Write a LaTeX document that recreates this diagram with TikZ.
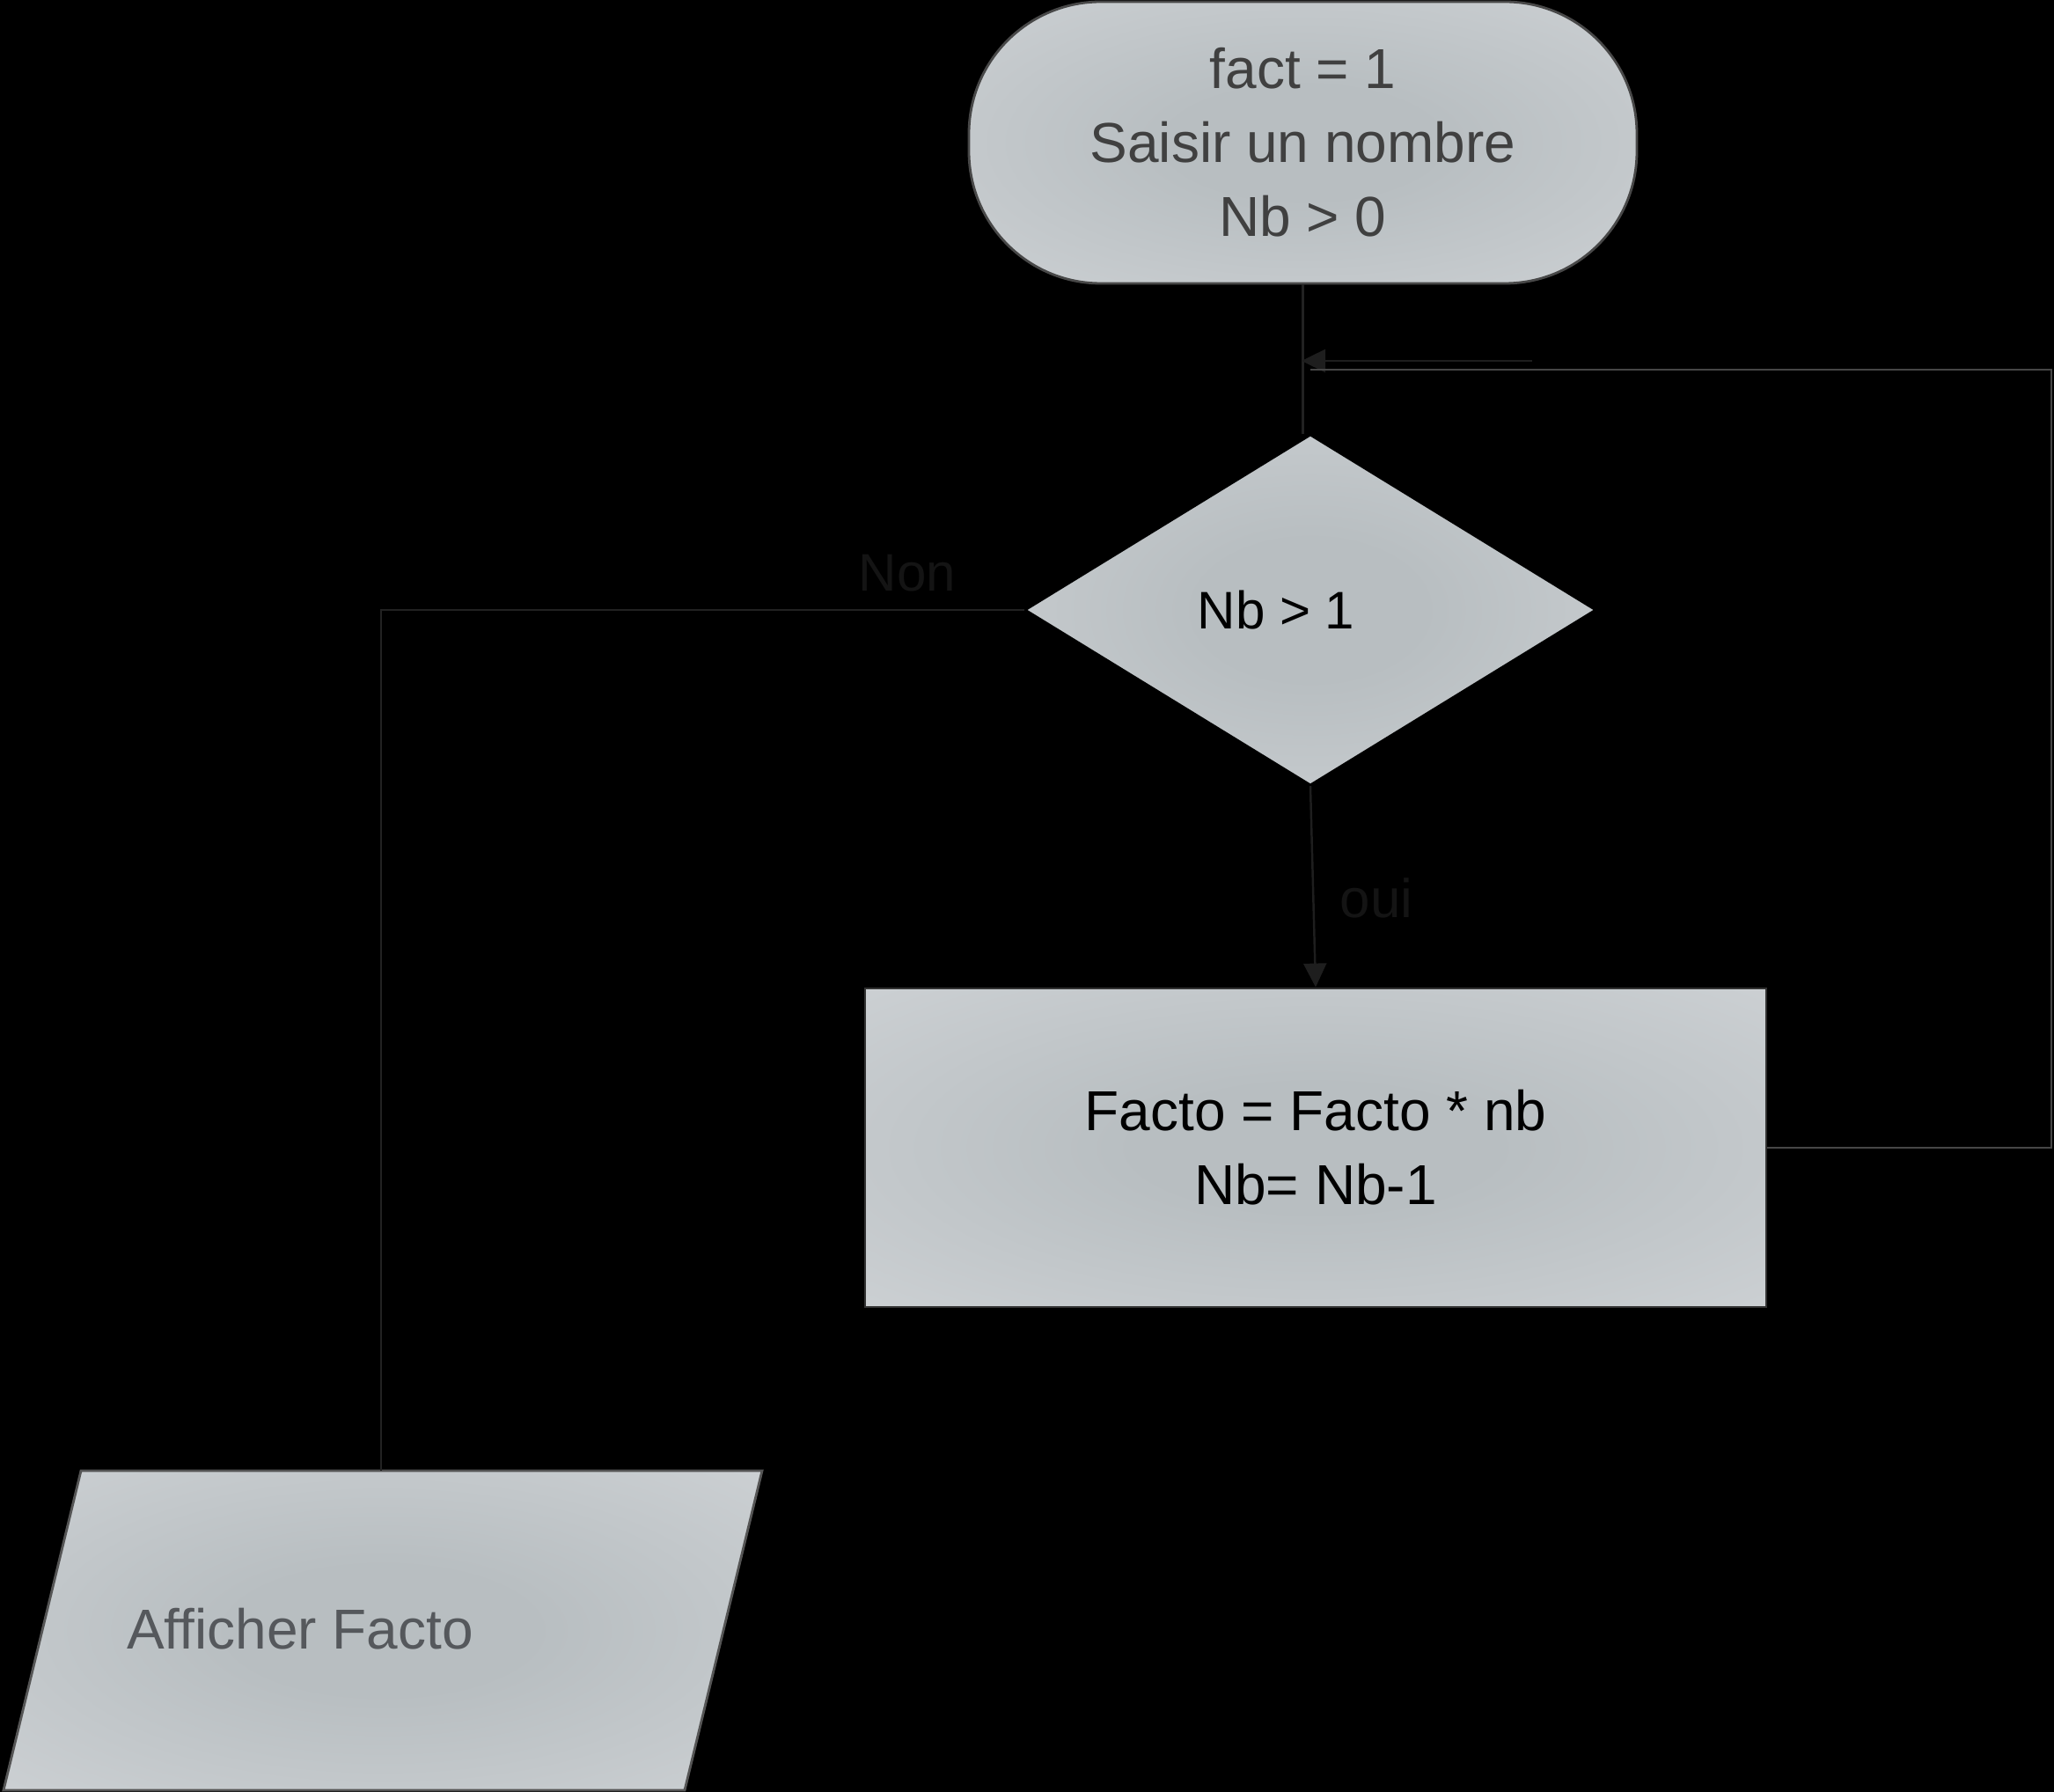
\documentclass[tikz,border=0pt]{standalone}
\usepackage{fontspec}
\setmainfont{Liberation Sans}
\usetikzlibrary{shapes.geometric,arrows.meta}
\definecolor{fondcentre}{RGB}{184,190,193}
\definecolor{fondmilieu}{RGB}{204,208,211}
\definecolor{fondbord}{RGB}{218,222,225}
\pgfdeclareradialshading{fondgris}{\pgfpoint{0bp}{0bp}}{color(0bp)=(fondcentre); color(10bp)=(fondcentre); color(36bp)=(fondmilieu); color(52bp)=(fondbord); color(70bp)=(fondbord)}

\begin{document}
\begin{tikzpicture}
		\tikzstyle{every node}=[font=\fontsize{18.2}{23.9}\selectfont]
		\tikzstyle{base} = [draw, shade, shading=fondgris, align=center, inner sep=0pt, line width=0.8pt]
		\tikzstyle{inicio} = [base, rounded corners=1.5cm, draw={rgb,255:red,72; green,72; blue,72}, text={rgb,255:red,64; green,64; blue,64}, minimum width=7.59cm, minimum height=3.2cm]
		\tikzstyle{decision} = [base, diamond, draw=black, line width=0.6pt, minimum width=6.48cm, minimum height=3.98cm]
		\tikzstyle{bloque} = [base, draw={rgb,255:red,50; green,50; blue,50}, text=black, minimum width=10.24cm, minimum height=3.62cm]
		\tikzstyle{salida} = [draw={rgb,255:red,85; green,85; blue,85}, shading=fondgris, line width=0.8pt]
		\tikzstyle{flecha} = [-{Triangle[length=0.27cm, width=0.26cm]}, line width=0.7pt, draw={rgb,255:red,30; green,30; blue,30}]
		\tikzstyle{linea} = [line width=0.6pt, draw={rgb,255:red,34; green,34; blue,34}]
		\tikzstyle{retorno} = [line width=0.6pt, draw={rgb,255:red,70; green,70; blue,70}]
		\tikzstyle{blank} = [inner sep=0pt, outer sep=0pt, anchor=base, text={rgb,255:red,20; green,20; blue,20}]

		\fill[black] (0,0) rectangle (23.34,-20.36);
		\useasboundingbox (0,0) rectangle (23.34,-20.36);

		\draw (14.805,-1.62) node[inicio](start){fact = 1\\Saisir un nombre\\Nb > 0};
		\draw (14.89,-6.93) node[decision, label={[font=\fontsize{17.1}{20}\selectfont, text=black, xshift=-0.39cm]center:Nb > 1}](test){};
		\draw (14.95,-13.04) node[bloque](calc){Facto = Facto * nb\\Nb= Nb-1};

		% parallelogramme de sortie
		\shade[salida] (0.92,-16.71) -- (8.66,-16.71) -- (7.78,-20.34) -- (0.04,-20.34) -- cycle;
		\coordinate (entree) at (4.33,-16.71);
		\draw (3.41,-18.51) node[text={rgb,255:red,85; green,88; blue,92}](affiche){Afficher Facto};

		\draw (10.31,-6.72) node[blank, font=\fontsize{17.1}{20}\selectfont](non){Non};
		\draw (15.64,-10.43) node[blank, font=\fontsize{17.6}{20}\selectfont](oui){oui};

		\coordinate (retour) at (14.79,-4.10);
		\coordinate (queue) at (17.41,-4.10);
		\coordinate (coin) at (23.31,-4.20);
		\coordinate (fin) at (14.89,-4.20);

		\draw [linea] (start.south) -- (start.south |- test.north);
		\draw [flecha] (queue) -- (retour);
		\draw [retorno] (calc.east) -| (coin) -- (fin);
		\draw [linea] (test.west) -| (entree);
		\draw [flecha] (test.south) -- (calc.north);
	\end{tikzpicture}
\end{document}
